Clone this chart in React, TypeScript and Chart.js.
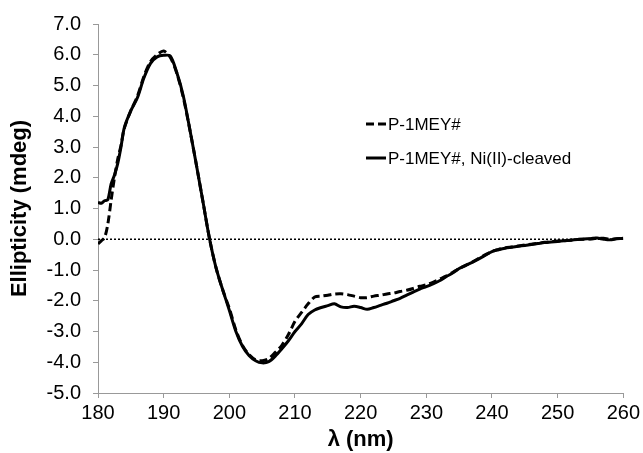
import React, { useEffect, useRef } from "react";
import { Chart, registerables } from "chart.js";

Chart.register(...registerables);

const wavelengths = [
  180, 180.5, 181, 181.5, 182, 182.5, 183, 183.5,
  184, 185, 186, 187, 188, 189, 190, 191, 192, 193,
  194, 195, 196, 197, 198, 199, 200, 201, 202, 203,
  204, 205, 206, 207, 208, 209, 210, 211, 212, 213,
  214, 215, 216, 217, 218, 219, 220, 221, 222, 223,
  224, 225, 226, 227, 228, 229, 230, 231, 232, 233,
  234, 235, 236, 237, 238, 239, 240, 241, 242, 243,
  244, 245, 246, 247, 248, 249, 250, 251, 252, 253,
  254, 255, 256, 257, 258, 259, 260,
];

const p1mey = [
  -0.15, -0.05, 0.05, 0.5, 1.27, 2.0, 2.6, 3.05,
  3.6, 4.18, 4.65, 5.3, 5.78, 6.0, 6.12, 5.92, 5.4, 4.6,
  3.55, 2.4, 1.2, 0.0, -0.95, -1.65, -2.25, -2.95, -3.45, -3.75,
  -3.92, -3.95, -3.88, -3.68, -3.45, -3.1, -2.67, -2.38, -2.1, -1.88,
  -1.85, -1.82, -1.78, -1.77, -1.8, -1.85, -1.9, -1.9, -1.85, -1.82,
  -1.78, -1.75, -1.7, -1.66, -1.6, -1.53, -1.48, -1.4, -1.3, -1.2,
  -1.08, -0.95, -0.85, -0.74, -0.62, -0.5, -0.4, -0.33, -0.28, -0.25,
  -0.22, -0.19, -0.16, -0.13, -0.1, -0.08, -0.06, -0.05, -0.03, -0.01,
  0.0, 0.01, 0.03, 0.03, 0.0, 0.02, 0.03,
];

const p1meyNi = [
  1.2, 1.17, 1.25, 1.29, 1.8, 2.08, 2.46, 3.0,
  3.62, 4.18, 4.6, 5.25, 5.72, 5.93, 5.98, 5.96, 5.42, 4.65,
  3.55, 2.4, 1.2, 0.0, -0.95, -1.65, -2.31, -3.0, -3.48, -3.78,
  -3.95, -4.02, -3.98, -3.8, -3.56, -3.3, -3.0, -2.75, -2.45, -2.3,
  -2.22, -2.16, -2.1, -2.2, -2.22, -2.18, -2.22, -2.28, -2.22, -2.15,
  -2.08, -2.0, -1.92, -1.82, -1.72, -1.62, -1.54, -1.45, -1.35, -1.22,
  -1.1, -0.95, -0.85, -0.75, -0.64, -0.52, -0.4, -0.34, -0.29, -0.26,
  -0.23, -0.2, -0.17, -0.14, -0.11, -0.09, -0.07, -0.05, -0.03, -0.01,
  0.01, 0.02, 0.04, 0.0, -0.02, 0.02, 0.03,
];

const seriesNames = ["P-1MEY#", "P-1MEY#, Ni(II)-cleaved"];
const xRange = [180, 260];
const yRange = [-5, 7];
const zeroLevel = [0, 0];

const FONT = "'Liberation Sans', Arial, Helvetica, sans-serif";
const DASH = [8, 4];

const legendPlugin = {
  id: "customLegend",
  afterDraw(chart: any) {
    const ctx = chart.ctx;
    const entries = [
      { text: seriesNames[0], dash: DASH, y: 124 },
      { text: seriesNames[1], dash: [], y: 158 },
    ];
    ctx.save();
    ctx.font = `17px ${FONT}`;
    ctx.fillStyle = "#000";
    ctx.textBaseline = "middle";
    ctx.textAlign = "left";
    for (const e of entries) {
      ctx.beginPath();
      ctx.setLineDash(e.dash);
      ctx.lineWidth = 3;
      ctx.strokeStyle = "#000";
      ctx.moveTo(366, e.y);
      ctx.lineTo(386, e.y);
      ctx.stroke();
      ctx.setLineDash([]);
      ctx.fillText(e.text, 388, e.y + 1);
    }
    ctx.restore();
  },
};

export default function App() {
  const ref = useRef<HTMLCanvasElement | null>(null);

  useEffect(() => {
    if (!ref.current) return;
    const toPts = (vals: number[]) => wavelengths.map((x, i) => ({ x, y: vals[i] }));
    const chart = new Chart(ref.current, {
      type: "line",
      data: {
        datasets: [
          {
            label: seriesNames[1],
            data: toPts(p1meyNi),
            borderColor: "#000",
            borderWidth: 3,
            pointRadius: 0,
            tension: 0.3,
            fill: false,
          },
          {
            label: seriesNames[0],
            data: toPts(p1mey),
            borderColor: "#000",
            borderWidth: 3,
            borderDash: DASH,
            pointRadius: 0,
            tension: 0.3,
            fill: false,
          },
          {
            label: "zero",
            data: xRange.map((x, i) => ({ x, y: zeroLevel[i] })),
            borderColor: "#000",
            borderWidth: 1.5,
            borderDash: [2, 2],
            pointRadius: 0,
            fill: false,
          },
        ],
      },
      options: {
        responsive: false,
        animation: false,
        events: [],
        layout: { padding: { top: 24, right: 18, bottom: 0, left: 0 } },
        plugins: {
          legend: { display: false },
          tooltip: { enabled: false },
        },
        scales: {
          x: {
            type: "linear",
            min: xRange[0],
            max: xRange[1],
            afterFit: (s: any) => {
              s.height = 60;
            },
            ticks: {
              stepSize: 10,
              color: "#000",
              font: { family: FONT, size: 20 },
              padding: 3,
              maxRotation: 0,
            },
            grid: {
              drawOnChartArea: false,
              drawTicks: true,
              tickLength: 5,
              color: "#999",
              tickColor: "#999",
            },
            border: { display: true, color: "#999", width: 1 },
            title: {
              display: true,
              text: "λ (nm)",
              color: "#000",
              font: { family: FONT, size: 22, weight: "bold" },
              padding: { top: 0, bottom: 0 },
            },
          },
          y: {
            type: "linear",
            min: yRange[0],
            max: yRange[1],
            afterFit: (s: any) => {
              s.width = 98;
            },
            ticks: {
              stepSize: 1,
              color: "#000",
              font: { family: FONT, size: 20 },
              padding: 12,
              callback: (v: any) => Number(v).toFixed(1),
            },
            grid: {
              drawOnChartArea: false,
              drawTicks: true,
              tickLength: 5,
              color: "#999",
              tickColor: "#999",
            },
            border: { display: true, color: "#999", width: 1 },
            title: {
              display: true,
              text: "Ellipticity (mdeg)",
              color: "#000",
              font: { family: FONT, size: 22, weight: "bold" },
              padding: { top: 7, bottom: 0 },
            },
          },
        },
      },
      plugins: [legendPlugin],
    });
    return () => chart.destroy();
  }, []);

  return (
    <div style={{ position: "fixed", left: 0, top: 0, width: 643, height: 453, background: "#fff" }}>
      <canvas ref={ref} width={643} height={453} style={{ display: "block" }} />
    </div>
  );
}
